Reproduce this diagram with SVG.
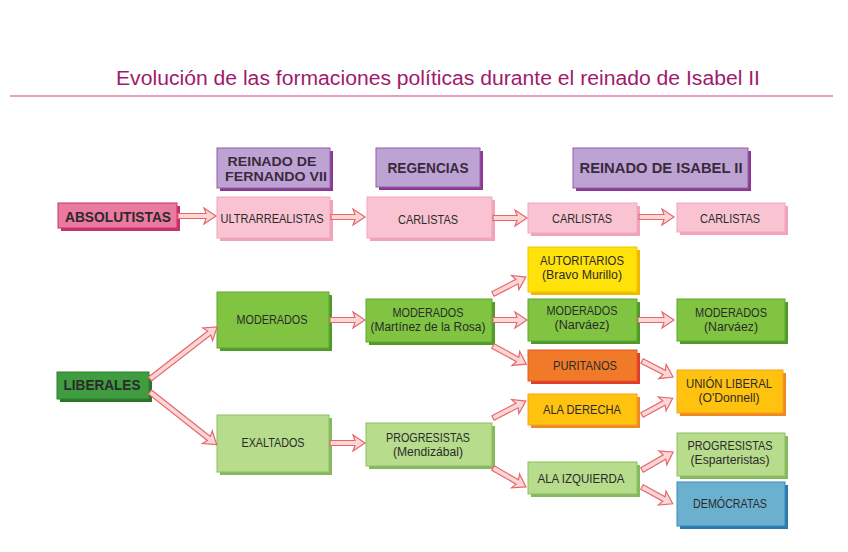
<svg xmlns="http://www.w3.org/2000/svg" width="848" height="552" viewBox="0 0 848 552">
<style>
text{font-family:"Liberation Sans",Arial,sans-serif;text-anchor:middle;fill:#2b2b2b;font-size:13px}
.t2{font-size:12px}
.title{font-size:20px;fill:#a01a6c;text-anchor:start}
.hd{font-weight:bold;font-size:15px;fill:#3a2a3c}
.hd2{font-weight:bold;font-size:13px;fill:#3a2a3c}
.bd{font-weight:bold;font-size:15px}
.arr{fill:#fcd6d6;stroke:#e4686c;stroke-width:1.2;stroke-linejoin:miter}
.bx{stroke-width:1}
.purple{fill:#bda3d3;stroke:#9a5aa8}.purple-s{fill:#8b3a93}
.abs{fill:#ea7aa0;stroke:#c8306c}.abs-s{fill:#c8306c}
.lpink{fill:#f9c3d2;stroke:#f2a6bc}.lpink-s{fill:#f0a3ba}
.green{fill:#80c442;stroke:#5ea630}.green-s{fill:#4f9a2a}
.dgreen{fill:#3f9c3f;stroke:#2d7f2d}.dgreen-s{fill:#2a742a}
.lgreen{fill:#b6dc8c;stroke:#8cc060}.lgreen-s{fill:#86b860}
.yellow{fill:#ffe20a;stroke:#f4c400}.yellow-s{fill:#f0b800}
.orange{fill:#f07a28;stroke:#e05a28}.orange-s{fill:#e03c2a}
.amber{fill:#ffc20e;stroke:#f5a020}.amber-s{fill:#f08a20}
.blue{fill:#6cb0d0;stroke:#3a88b8}.blue-s{fill:#2a7ab0}
</style>
<text class="title" x="116" y="85" textLength="644" lengthAdjust="spacingAndGlyphs">Evolución de las formaciones políticas durante el reinado de Isabel II</text>
<line x1="10" y1="96" x2="833" y2="96" stroke="#c8408a" stroke-width="1.2"/>

<g id="h-fernando"><rect class="purple-s" x="220" y="151" width="113" height="40"/><rect class="bx purple" x="217" y="148" width="113" height="40"/>
<text class="hd2" x="272" y="166" textLength="89" lengthAdjust="spacingAndGlyphs">REINADO DE</text>
<text class="hd2" x="276" y="181" textLength="102" lengthAdjust="spacingAndGlyphs">FERNANDO VII</text></g>
<g id="h-regencias"><rect class="purple-s" x="379" y="151" width="104" height="39"/><rect class="bx purple" x="376" y="148" width="104" height="39"/>
<text class="hd" x="428" y="173" textLength="81" lengthAdjust="spacingAndGlyphs">REGENCIAS</text></g>
<g id="h-isabel"><rect class="purple-s" x="576" y="151" width="175" height="40"/><rect class="bx purple" x="573" y="148" width="175" height="40"/>
<text class="hd" x="661" y="173" textLength="163" lengthAdjust="spacingAndGlyphs">REINADO DE ISABEL II</text></g>

<g id="absolutistas"><rect class="abs-s" x="61" y="206" width="119" height="25"/><rect class="bx abs" x="58" y="203" width="119" height="25"/>
<text class="bd" x="118" y="222" fill="#3a1020" textLength="106" lengthAdjust="spacingAndGlyphs">ABSOLUTISTAS</text></g>
<g id="ultrarrealistas"><rect class="lpink-s" x="220" y="200" width="113" height="41"/><rect class="bx lpink" x="217" y="197" width="113" height="41"/>
<text x="272" y="223" textLength="103" lengthAdjust="spacingAndGlyphs">ULTRARREALISTAS</text></g>
<g id="carlistas-reg"><rect class="lpink-s" x="370" y="200" width="125" height="41"/><rect class="bx lpink" x="367" y="197" width="125" height="41"/>
<text x="428" y="224" textLength="60" lengthAdjust="spacingAndGlyphs">CARLISTAS</text></g>
<g id="carlistas-1"><rect class="lpink-s" x="531" y="206" width="109" height="30"/><rect class="bx lpink" x="528" y="203" width="109" height="30"/>
<text x="582" y="223" textLength="60" lengthAdjust="spacingAndGlyphs">CARLISTAS</text></g>
<g id="carlistas-2"><rect class="lpink-s" x="680" y="206" width="108" height="29"/><rect class="bx lpink" x="677" y="203" width="108" height="29"/>
<text x="730" y="223" textLength="60" lengthAdjust="spacingAndGlyphs">CARLISTAS</text></g>

<g id="liberales"><rect class="dgreen-s" x="60" y="375" width="92" height="27"/><rect class="bx dgreen" x="57" y="372" width="92" height="27"/>
<text class="bd" x="102" y="390" fill="#10361a" textLength="77" lengthAdjust="spacingAndGlyphs">LIBERALES</text></g>
<g id="moderados-1"><rect class="green-s" x="220" y="295" width="112" height="56"/><rect class="bx green" x="217" y="292" width="112" height="56"/>
<text x="272" y="324" textLength="71" lengthAdjust="spacingAndGlyphs">MODERADOS</text></g>
<g id="exaltados"><rect class="lgreen-s" x="220" y="418" width="112" height="57"/><rect class="bx lgreen" x="217" y="415" width="112" height="57"/>
<text x="273" y="447" textLength="63" lengthAdjust="spacingAndGlyphs">EXALTADOS</text></g>

<g id="moderados-mr"><rect class="green-s" x="369" y="302" width="126" height="43"/><rect class="bx green" x="366" y="299" width="126" height="43"/>
<text class="t2" x="428" y="317" textLength="71" lengthAdjust="spacingAndGlyphs">MODERADOS</text>
<text class="t2" x="428" y="331" textLength="115" lengthAdjust="spacingAndGlyphs">(Martínez de la Rosa)</text></g>
<g id="progresistas-m"><rect class="lgreen-s" x="369" y="426" width="126" height="43"/><rect class="bx lgreen" x="366" y="423" width="126" height="43"/>
<text class="t2" x="428" y="442" textLength="84" lengthAdjust="spacingAndGlyphs">PROGRESISTAS</text>
<text class="t2" x="428" y="456" textLength="70" lengthAdjust="spacingAndGlyphs">(Mendizábal)</text></g>

<g id="autoritarios"><rect class="yellow-s" x="531" y="250" width="109" height="45"/><rect class="bx yellow" x="528" y="247" width="109" height="45"/>
<text class="t2" x="582" y="265" textLength="84" lengthAdjust="spacingAndGlyphs">AUTORITARIOS</text>
<text class="t2" x="582" y="279" textLength="80" lengthAdjust="spacingAndGlyphs">(Bravo Murillo)</text></g>
<g id="moderados-n1"><rect class="green-s" x="531" y="302" width="109" height="42"/><rect class="bx green" x="528" y="299" width="109" height="42"/>
<text class="t2" x="582" y="315" textLength="71" lengthAdjust="spacingAndGlyphs">MODERADOS</text>
<text class="t2" x="582" y="329" textLength="55" lengthAdjust="spacingAndGlyphs">(Narváez)</text></g>
<g id="puritanos"><rect class="orange-s" x="531" y="353" width="109" height="31"/><rect class="bx orange" x="528" y="350" width="109" height="31"/>
<text x="585" y="370" textLength="64" lengthAdjust="spacingAndGlyphs">PURITANOS</text></g>
<g id="ala-derecha"><rect class="amber-s" x="531" y="397" width="109" height="31"/><rect class="bx amber" x="528" y="394" width="109" height="31"/>
<text x="582" y="414" textLength="78" lengthAdjust="spacingAndGlyphs">ALA DERECHA</text></g>
<g id="ala-izquierda"><rect class="lgreen-s" x="531" y="465" width="109" height="32"/><rect class="bx lgreen" x="528" y="462" width="109" height="32"/>
<text x="581" y="483" textLength="87" lengthAdjust="spacingAndGlyphs">ALA IZQUIERDA</text></g>

<g id="moderados-n2"><rect class="green-s" x="680" y="302" width="108" height="42"/><rect class="bx green" x="677" y="299" width="108" height="42"/>
<text class="t2" x="731" y="317" textLength="72" lengthAdjust="spacingAndGlyphs">MODERADOS</text>
<text class="t2" x="731" y="331" textLength="54" lengthAdjust="spacingAndGlyphs">(Narváez)</text></g>
<g id="union-liberal"><rect class="amber-s" x="680" y="373" width="106" height="43"/><rect class="bx amber" x="677" y="370" width="106" height="43"/>
<text class="t2" x="729" y="388" textLength="86" lengthAdjust="spacingAndGlyphs">UNIÓN LIBERAL</text>
<text class="t2" x="729" y="402" textLength="61" lengthAdjust="spacingAndGlyphs">(O'Donnell)</text></g>
<g id="progresistas-e"><rect class="lgreen-s" x="680" y="436" width="108" height="43"/><rect class="bx lgreen" x="677" y="433" width="108" height="43"/>
<text class="t2" x="730" y="450" textLength="85" lengthAdjust="spacingAndGlyphs">PROGRESISTAS</text>
<text class="t2" x="730" y="464" textLength="79" lengthAdjust="spacingAndGlyphs">(Esparteristas)</text></g>
<g id="democratas"><rect class="blue-s" x="680" y="485" width="108" height="44"/><rect class="bx blue" x="677" y="482" width="108" height="44"/>
<text x="730" y="508" textLength="74" lengthAdjust="spacingAndGlyphs">DEMÓCRATAS</text></g>

<g id="connectors">
<path class="arr" transform="translate(178,216)" d="M0,-2.5H28L26,-8L38,0L26,8L28,2.5H0Z"/>
<path class="arr" transform="translate(331,217)" d="M0,-2.5H24L22,-8L34,0L22,8L24,2.5H0Z"/>
<path class="arr" transform="translate(493,218)" d="M0,-2.5H24L22,-8L34,0L22,8L24,2.5H0Z"/>
<path class="arr" transform="translate(639,217)" d="M0,-2.5H25L23,-8L35,0L23,8L25,2.5H0Z"/>
<path class="arr" transform="translate(150,379) rotate(-37.8)" d="M0,-2.5H75L73,-8L85,0L73,8L75,2.5H0Z"/>
<path class="arr" transform="translate(150,392) rotate(38.3)" d="M0,-2.5H75L73,-8L85,0L73,8L75,2.5H0Z"/>
<path class="arr" transform="translate(330,320)" d="M0,-2.5H25L23,-8L35,0L23,8L25,2.5H0Z"/>
<path class="arr" transform="translate(330,443)" d="M0,-2.5H25L23,-8L35,0L23,8L25,2.5H0Z"/>
<path class="arr" transform="translate(493,294) rotate(-27.3)" d="M0,-2.5H27L25,-8L37,0L25,8L27,2.5H0Z"/>
<path class="arr" transform="translate(493,320)" d="M0,-2.5H24L22,-8L34,0L22,8L24,2.5H0Z"/>
<path class="arr" transform="translate(493,346) rotate(28.6)" d="M0,-2.5H28L26,-8L38,0L26,8L28,2.5H0Z"/>
<path class="arr" transform="translate(493,418) rotate(-27.3)" d="M0,-2.5H27L25,-8L37,0L25,8L27,2.5H0Z"/>
<path class="arr" transform="translate(493,468) rotate(29.9)" d="M0,-2.5H28L26,-8L38,0L26,8L28,2.5H0Z"/>
<path class="arr" transform="translate(638,320)" d="M0,-2.5H26L24,-8L36,0L24,8L26,2.5H0Z"/>
<path class="arr" transform="translate(642,361) rotate(27.3)" d="M0,-2.5H25L23,-8L35,0L23,8L25,2.5H0Z"/>
<path class="arr" transform="translate(642,415) rotate(-28.7)" d="M0,-2.5H25L23,-8L35,0L23,8L25,2.5H0Z"/>
<path class="arr" transform="translate(642,470) rotate(-30.1)" d="M0,-2.5H26L24,-8L36,0L24,8L26,2.5H0Z"/>
<path class="arr" transform="translate(642,487) rotate(28.7)" d="M0,-2.5H25L23,-8L35,0L23,8L25,2.5H0Z"/>
</g>
</svg>
